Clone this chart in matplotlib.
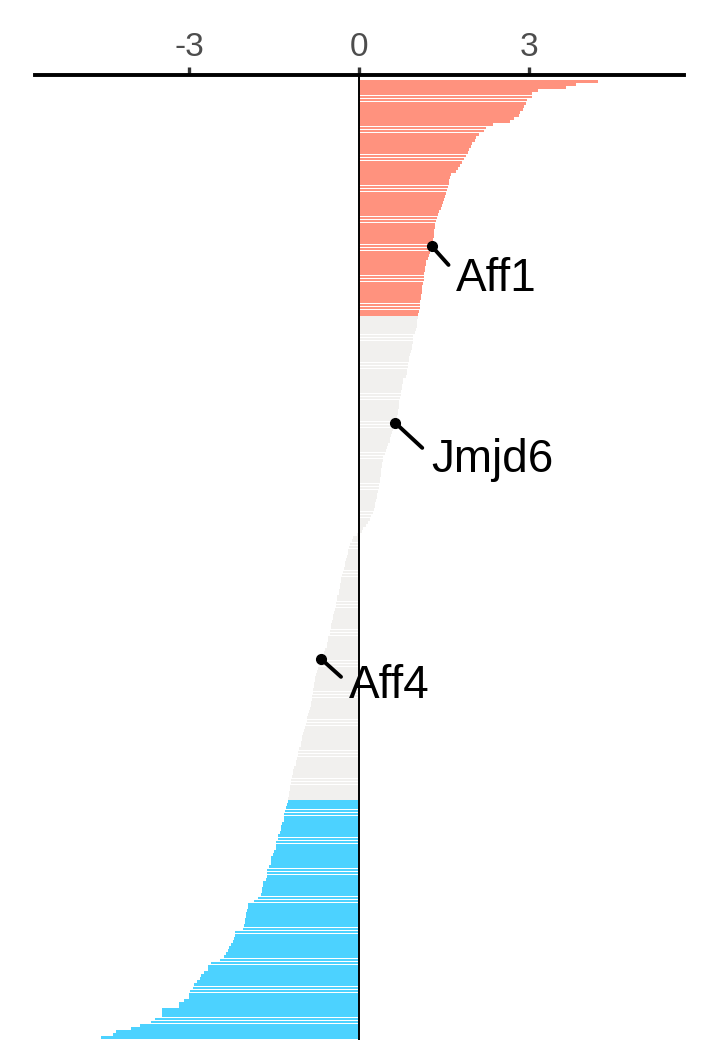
import numpy as np
import matplotlib
matplotlib.use("Agg")
import matplotlib.pyplot as plt

plt.rcParams["font.family"] = ["Liberation Sans", "DejaVu Sans"]

# ranked fold changes, top to bottom
up_values = [
    4.22, 3.83, 3.65, 3.16, 3.06, 3.05, 2.96, 2.94, 2.92, 2.90, 2.84, 2.82, 2.73,
    2.66, 2.36, 2.24, 2.20, 2.12, 2.06, 2.04, 2.00, 1.97, 1.94, 1.92, 1.89, 1.86,
    1.82, 1.78, 1.74, 1.71, 1.62, 1.61, 1.59, 1.58, 1.57, 1.56, 1.54, 1.51,
    1.50, 1.48, 1.47, 1.44, 1.41, 1.40, 1.38, 1.36, 1.35, 1.34, 1.33, 1.32, 1.32,
    1.31, 1.30, 1.28, 1.27, 1.25, 1.24, 1.22, 1.19, 1.18, 1.16, 1.16, 1.15, 1.14,
    1.14, 1.13, 1.12, 1.11, 1.11, 1.10, 1.09, 1.08, 1.08, 1.07, 1.06, 1.05,
]
mid_values = [
    1.04, 1.03, 1.02, 1.02, 1.00, 0.98, 0.96, 0.95, 0.95, 0.94, 0.93, 0.91, 0.90,
    0.89, 0.88, 0.87, 0.86, 0.85, 0.84, 0.83, 0.78, 0.77, 0.76, 0.76, 0.75, 0.74,
    0.72, 0.71, 0.70, 0.70, 0.69, 0.69, 0.67, 0.65, 0.64, 0.61, 0.60, 0.58, 0.57,
    0.55, 0.54, 0.52, 0.50, 0.48, 0.46, 0.43, 0.42, 0.41, 0.40, 0.39, 0.39, 0.38,
    0.37, 0.37, 0.36, 0.35, 0.33, 0.32, 0.31, 0.30, 0.29, 0.28, 0.26, 0.24, 0.22,
    0.19, 0.16, 0.12, 0.07, 0.05, -0.03,
    -0.10, -0.13, -0.15, -0.17, -0.19, -0.20, -0.22, -0.23, -0.24, -0.25, -0.27,
    -0.28, -0.30, -0.31, -0.32, -0.33, -0.34, -0.35, -0.36, -0.38, -0.39, -0.40,
    -0.41, -0.43, -0.44, -0.45, -0.46, -0.47, -0.49, -0.50, -0.51, -0.52, -0.54,
    -0.55, -0.56, -0.57, -0.60, -0.62, -0.64, -0.67, -0.69, -0.71, -0.72, -0.74,
    -0.75, -0.77, -0.78, -0.79, -0.80, -0.81, -0.82, -0.83, -0.83, -0.84, -0.85,
    -0.87, -0.88, -0.90, -0.91, -0.92, -0.94, -0.95, -0.97, -0.98, -1.00, -1.01,
    -1.02, -1.03, -1.05, -1.07, -1.08, -1.10, -1.11, -1.12, -1.14, -1.16, -1.17,
    -1.19, -1.20, -1.20, -1.21, -1.22, -1.23, -1.24, -1.25,
]
down_values = [
    -1.26, -1.27, -1.29, -1.30, -1.32, -1.32, -1.33, -1.36, -1.37, -1.38,
    -1.40, -1.43, -1.43, -1.46, -1.46, -1.47, -1.50, -1.52, -1.55, -1.55, -1.56,
    -1.58, -1.63, -1.63, -1.63, -1.64, -1.69, -1.69, -1.72, -1.72, -1.73, -1.79,
    -1.86, -1.95, -1.95, -1.98, -2.00, -2.00, -2.01, -2.02, -2.03, -2.04, -2.19,
    -2.19, -2.20, -2.22, -2.25, -2.29, -2.32, -2.35, -2.38, -2.46, -2.62, -2.66,
    -2.66, -2.73, -2.78, -2.81, -2.85, -2.91, -2.93, -2.98, -3.00, -3.00, -3.08,
    -3.17, -3.17, -3.47, -3.47, -3.47, -3.60, -3.67, -3.86, -4.03, -4.28, -4.34,
    -4.55,
]

label_genes = ["Aff1", "Jmjd6", "Aff4"]
label_rank = [53, 110, 186]

group_colors = {"up": "#FF927E", "mid": "#F1F0EE", "down": "#4CD2FF"}

values = np.array(up_values + mid_values + down_values)
colors = ([group_colors["up"]] * len(up_values) + [group_colors["mid"]] * len(mid_values)
          + [group_colors["down"]] * len(down_values))
n = len(values)
pos = np.arange(n)

W, H = 708, 1062
fig = plt.figure(figsize=(W / 100, H / 100), dpi=100)
top_px, bot_px = 75, 1040
ax = fig.add_axes([35 / W, 1 - bot_px / H, (684 - 35) / W, (bot_px - top_px) / H])

ax.barh(pos, values, height=0.9, color=colors, linewidth=0)
ax.axvline(0, color="black", lw=1.4, zorder=3)

# y scale: bars fill 80..1039 px
ppu = 959 / (n - 0.1)
ax.set_ylim(n - 0.55 + 1 / ppu, -0.45 - 5 / ppu)
ax.set_xlim(-5.717, 5.735)

ax.xaxis.set_ticks_position("top")
ax.set_xticks([-3, 0, 3])
ax.set_xticklabels(["-3", "0", "3"])
ax.tick_params(axis="x", length=6, width=2.4, color="#333333", labelsize=24,
               labelcolor="#4D4D4D", pad=2.5)
ax.set_yticks([])
for s in ["left", "right", "bottom"]:
    ax.spines[s].set_visible(False)
ax.spines["top"].set_linewidth(2.8)
ax.spines["top"].set_color("black")

line_off = [(17, -19), (27, -25), (20, -18)]
text_off = [(24, -33), (36, -37), (28, -27)]
for g, r, lo, to in zip(label_genes, label_rank, line_off, text_off):
    xv = values[r]
    ax.plot([xv], [r], "o", color="black", ms=7, zorder=5)
    ax.annotate("", xy=(xv, r), xytext=lo, textcoords="offset pixels",
                arrowprops=dict(arrowstyle="-", lw=2.8, color="black",
                                shrinkA=0, shrinkB=0), zorder=5)
    ax.annotate(g, xy=(xv, r), xytext=to, textcoords="offset pixels",
                ha="left", va="center", fontsize=33, color="black", zorder=6)

fig.savefig("out.png", dpi=100, facecolor="white")
